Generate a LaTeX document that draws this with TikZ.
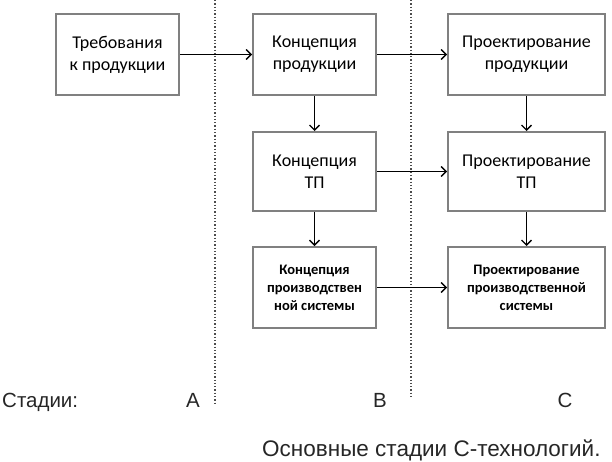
\documentclass[tikz,border=0pt]{standalone}
\usepackage{fontspec}
\setmainfont{Liberation Sans}
\newfontfamily\boxfont{Carlito}
\usetikzlibrary{arrows.meta}
\begin{document}
\begin{tikzpicture}[x=1pt,y=-1pt,
  blk/.style={draw=black!50, line width=2pt, fill=white, inner sep=0pt, align=center,
    text=black, font=\boxfont\fontsize{18}{22}\selectfont},
  blkb/.style={blk, font=\boxfont\bfseries\fontsize{14.5}{18}\selectfont},
  arr/.style={line width=1.4pt, -{Straight Barb[length=5pt,width=10pt,line width=1.3pt]}},
  sep/.style={black!70, line width=1.3pt, dotted},
  lbl/.style={font=\fontsize{20.5}{24}\selectfont, inner sep=0pt, text=black!85}]
\useasboundingbox (0,0) rectangle (612,461);
% separators
\coordinate (s1t) at (215,0); \coordinate (s1b) at (215,403);
\coordinate (s2t) at (411,0); \coordinate (s2b) at (411,398);
\draw[sep] (s1t) -- (s1b);
\draw[sep] (s2t) -- (s2b);
% boxes
\node[blk, minimum width=123pt, minimum height=81pt] (req) at (117.5,54.5) {Требования\\к продукции};
\node[blk, minimum width=123pt, minimum height=81pt] (cp) at (314.5,54.5) {Концепция\\продукции};
\node[blk, minimum width=157pt, minimum height=81pt] (pp) at (526.5,54.5) {Проектирование\\продукции};
\node[blk, minimum width=123pt, minimum height=79pt] (ct) at (314.5,171.5) {Концепция\\ТП};
\node[blk, minimum width=157pt, minimum height=79pt] (pt) at (526.5,171.5) {Проектирование\\ТП};
\node[blkb, minimum width=123pt, minimum height=81pt] (cs) at (314.5,287.5) {Концепция\\производствен\\ной системы};
\node[blkb, minimum width=157pt, minimum height=81pt] (ps) at (526.5,287.5) {Проектирование\\производственной\\системы};
% arrows
\draw[arr] (req) -- (cp);
\draw[arr] (cp) -- (pp);
\draw[arr] (ct) -- (pt);
\draw[arr] (cs) -- (ps);
\draw[arr] (cp) -- (ct);
\draw[arr] (ct) -- (cs);
\draw[arr] (pp) -- (pt);
\draw[arr] (pt) -- (ps);
% labels
\node[lbl, anchor=base west] (st) at (2,407) {Стадии:};
\node[lbl, anchor=base] (la) at (193,407) {A};
\node[lbl, anchor=base] (lb) at (380,407) {B};
\node[lbl, anchor=base] (lc) at (565,407) {C};
\node[lbl, font=\fontsize{22.5}{26}\selectfont, anchor=base west] (cap) at (262,456) {Основные стадии С-технологий.};
\end{tikzpicture}
\end{document}
